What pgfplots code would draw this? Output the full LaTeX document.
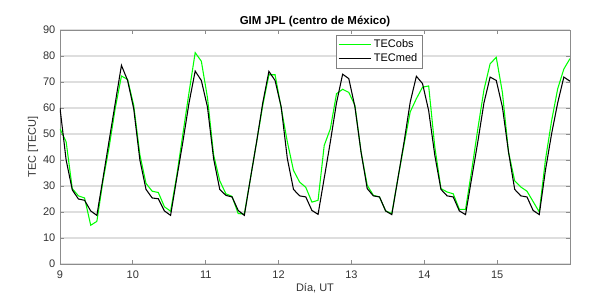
\documentclass[border=0pt]{standalone}
\usepackage{pgfplots}
\pgfplotsset{compat=1.18}
\usepackage{pgfplotstable}
\usepackage{fontspec}
\setmainfont{Liberation Sans}
\pgfplotstableread{
x y
9.0000 60
9.0843 40
9.1687 28.5
9.2530 25
9.3373 24.5
9.4217 20.4
9.5060 18.7
9.5904 33
9.6747 47.5
9.7590 62
9.8434 76.4
9.9277 70.6
10.0120 59.7
10.0964 40
10.1807 28.7
10.2651 25.4
10.3494 25.1
10.4337 20.4
10.5181 18.7
10.6024 33
10.6867 47
10.7711 62
10.8554 74.2
10.9398 70.6
11.0241 60.4
11.1084 40.5
11.1928 28.7
11.2771 26.4
11.3614 25.8
11.4458 20.6
11.5301 18.7
11.6145 33
11.6988 47
11.7831 62
11.8675 74.1
11.9518 70.6
12.0361 60.4
12.1205 40.5
12.2048 28.7
12.2892 26.2
12.3735 25.8
12.4578 20.6
12.5422 19.1
12.6265 33
12.7108 47
12.7952 62
12.8795 73
12.9639 71.3
13.0482 60.4
13.1325 43
13.2169 29
13.3012 26.2
13.3855 25.8
13.4699 20.4
13.5542 19
13.6386 33
13.7229 47
13.8072 62.3
13.8916 72.2
13.9759 69.4
14.0602 59
14.1446 41.8
14.2289 28.7
14.3133 26.2
14.3976 25.8
14.4819 20.4
14.5663 19
14.6506 33
14.7349 47
14.8193 62
14.9036 71.9
14.9880 70.6
15.0723 60.4
15.1566 43
15.2410 28.7
15.3253 26.2
15.4096 25.8
15.4940 20.6
15.5783 19
15.6627 36
15.7470 50
15.8313 62
15.9157 71.9
16.0000 70.3
}\tecmed
\pgfplotstableread{
x y
9.0000 52
9.0843 47
9.1687 29
9.2530 26.2
9.3373 25.4
9.4217 14.9
9.5060 16.4
9.5904 32
9.6747 45
9.7590 60
9.8434 72.3
9.9277 71
10.0120 61
10.0964 42
10.1807 31
10.2651 28
10.3494 27.5
10.4337 22
10.5181 20.3
10.6024 34
10.6867 50
10.7711 66
10.8554 81.3
10.9398 78
11.0241 64
11.1084 42
11.1928 32
11.2771 27
11.3614 26
11.4458 19.4
11.5301 19.2
11.6145 33
11.6988 47
11.7831 61
11.8675 72.8
11.9518 72.8
12.0361 60
12.1205 47
12.2048 36
12.2892 31.5
12.3735 29.5
12.4578 23.8
12.5422 24.5
12.6265 45.6
12.7108 52
12.7952 65.5
12.8795 67.2
12.9639 66
13.0482 61
13.1325 43
13.2169 30.3
13.3012 26.4
13.3855 25.8
13.4699 20.4
13.5542 19.4
13.6386 33
13.7229 46
13.8072 58.5
13.8916 63.6
13.9759 68
14.0602 68.5
14.1446 45
14.2289 29
14.3133 27.7
14.3976 27
14.4819 21
14.5663 21
14.6506 36
14.7349 52
14.8193 67
14.9036 77
14.9880 79.5
15.0723 66
15.1566 43
15.2410 32
15.3253 29.6
15.4096 28
15.4940 24
15.5783 20
15.6627 40
15.7470 55
15.8313 67.4
15.9157 75
16.0000 79
}\tecobs
\begin{document}
\begin{tikzpicture}
\useasboundingbox (-45pt,-27pt) rectangle (405pt,198pt);
\begin{axis}[
  scale only axis,
  width=382.5pt, height=175.5pt,
  xmin=9, xmax=16, ymin=0, ymax=90,
  xtick={9,10,...,15}, ytick={0,10,...,90},
  tick align=inside, tick pos=both,
  major tick length=3pt,
  axis line style={black!45, line width=0.6pt},
  every tick/.style={black!45, line width=0.6pt},
  ymajorgrids, grid style={black!13, line width=0.8pt},
  font=\fontsize{8.25}{10}\selectfont,
  ticklabel style={text=black!80},
  /pgf/number format/assume math mode=true,
  xticklabel style={yshift=-1.5pt},
  title={\bfseries GIM JPL (centro de México)},
  title style={at={(axis description cs:0.5,1)}, anchor=south, yshift=-7.5pt, font=\fontsize{8.6}{10}\selectfont},
  xlabel={Día, UT},
  xlabel style={at={(axis description cs:0.5,0)}, anchor=center, yshift=-18pt, text=black!80},
  ylabel={TEC [TECU]},
  ylabel style={at={(axis description cs:-0.0529,0.5)}, anchor=center, text=black!80},
  legend style={at={(0.541,0.979)}, anchor=north west, draw=black!50, fill=white,
    font=\fontsize{8.25}{9.5}\selectfont, inner sep=1.5pt, row sep=-1pt,
    legend cell align=left},
  legend image code/.code={\draw[#1] (0pt,0pt) -- (24pt,0pt);},
]
\addplot[color={rgb,1:red,0;green,1;blue,0}, line width=0.8pt] table[x=x,y=y] {\tecobs};
\addlegendentry{TECobs}
\addplot[black, line width=0.8pt] table[x=x,y=y] {\tecmed};
\addlegendentry{TECmed}
\end{axis}
\end{tikzpicture}
\end{document}
